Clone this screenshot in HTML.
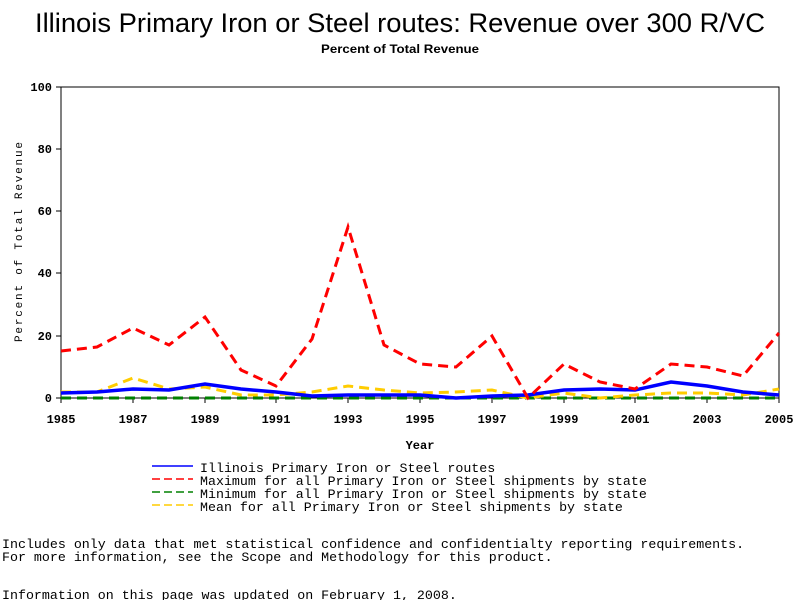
<!DOCTYPE html>
<html><head><style>body{margin:0;background:#fff}svg{display:block}</style></head>
<body>
<svg width="800" height="600" xmlns="http://www.w3.org/2000/svg">
<text x="400" y="32" text-anchor="middle" font-family="Liberation Sans, sans-serif" font-size="27" textLength="730" lengthAdjust="spacingAndGlyphs">Illinois Primary Iron or Steel routes: Revenue over 300 R/VC</text>
<text x="400" y="53" text-anchor="middle" font-family="Liberation Sans, sans-serif" font-size="12" font-weight="bold" textLength="158" lengthAdjust="spacingAndGlyphs">Percent of Total Revenue</text>
<rect x="61" y="87" width="718" height="311" fill="none" stroke="#000" stroke-width="1"/>
<g stroke="#000">
<line x1="56" y1="87" x2="61" y2="87"/><line x1="56" y1="149" x2="61" y2="149"/><line x1="56" y1="211" x2="61" y2="211"/><line x1="56" y1="273" x2="61" y2="273"/><line x1="56" y1="336" x2="61" y2="336"/><line x1="56" y1="398" x2="61" y2="398"/>
<line x1="61" y1="398" x2="61" y2="403"/><line x1="133" y1="398" x2="133" y2="403"/><line x1="205" y1="398" x2="205" y2="403"/><line x1="276" y1="398" x2="276" y2="403"/><line x1="348" y1="398" x2="348" y2="403"/><line x1="420" y1="398" x2="420" y2="403"/><line x1="492" y1="398" x2="492" y2="403"/><line x1="564" y1="398" x2="564" y2="403"/><line x1="635" y1="398" x2="635" y2="403"/><line x1="707" y1="398" x2="707" y2="403"/><line x1="779" y1="398" x2="779" y2="403"/>
</g>
<g font-family="Liberation Mono, monospace" font-size="12" font-weight="bold" text-anchor="end">
<text x="52" y="91">100</text><text x="52" y="153">80</text><text x="52" y="215">60</text><text x="52" y="277">40</text><text x="52" y="340">20</text><text x="52" y="402">0</text>
</g>
<g font-family="Liberation Mono, monospace" font-size="12" font-weight="bold" text-anchor="middle">
<text x="61" y="423">1985</text><text x="133" y="423">1987</text><text x="205" y="423">1989</text><text x="276" y="423">1991</text><text x="348" y="423">1993</text><text x="420" y="423">1995</text><text x="492" y="423">1997</text><text x="564" y="423">1999</text><text x="635" y="423">2001</text><text x="707" y="423">2003</text><text x="779" y="423">2005</text>
<text x="420" y="449">Year</text>
</g>
<text transform="translate(22,242) rotate(-90)" text-anchor="middle" font-family="Liberation Mono, monospace" font-size="11" textLength="200" lengthAdjust="spacing">Percent of Total Revenue</text>
<polyline fill="none" stroke="#008000" stroke-width="3" stroke-dasharray="10,6" points="61,398 779,398"/>
<polyline fill="none" stroke="#ffcc00" stroke-width="3" stroke-dasharray="10,6" points="61,392 97,392 133,378 169,389 205,387 241,395 276,395 312,392 348,386 384,390 420,393 456,392 492,390 528,398 564,393 600,398 635,395 671,393 707,393 743,395 779,389"/>
<polyline fill="none" stroke="#0000ff" stroke-width="3.5" points="61,393 97,392 133,389 169,390 205,384 241,389 276,392 312,396 348,395 384,395 420,395 456,398 492,396 528,395 564,390 600,389 635,390 671,382 707,386 743,392 779,395"/>
<polyline fill="none" stroke="#ff0000" stroke-width="3" stroke-dasharray="10,6" points="61,351 97,347 133,328 169,345 205,317 241,370 276,386 312,339 348,227 384,345 420,364 456,367 492,336 528,398 564,364 600,382 635,389 671,364 707,367 743,376 779,333"/>
<g stroke-width="1.5">
<line x1="152" y1="466" x2="193" y2="466" stroke="#0000ff"/>
<line x1="152" y1="479" x2="193" y2="479" stroke="#ff0000" stroke-dasharray="8,4"/>
<line x1="152" y1="492" x2="193" y2="492" stroke="#008000" stroke-dasharray="8,4"/>
<line x1="152" y1="505" x2="193" y2="505" stroke="#ffcc00" stroke-dasharray="8,4"/>
</g>
<g font-family="Liberation Mono, monospace" font-size="13.3">
<text x="200" y="472">Illinois Primary Iron or Steel routes</text>
<text x="200" y="485">Maximum for all Primary Iron or Steel shipments by state</text>
<text x="200" y="498">Minimum for all Primary Iron or Steel shipments by state</text>
<text x="200" y="511">Mean for all Primary Iron or Steel shipments by state</text>
<text x="2" y="548">Includes only data that met statistical confidence and confidentialty reporting requirements.</text>
<text x="2" y="561">For more information, see the Scope and Methodology for this product.</text>
<text x="2" y="599">Information on this page was updated on February 1, 2008.</text>
</g>
</svg>
</body></html>
